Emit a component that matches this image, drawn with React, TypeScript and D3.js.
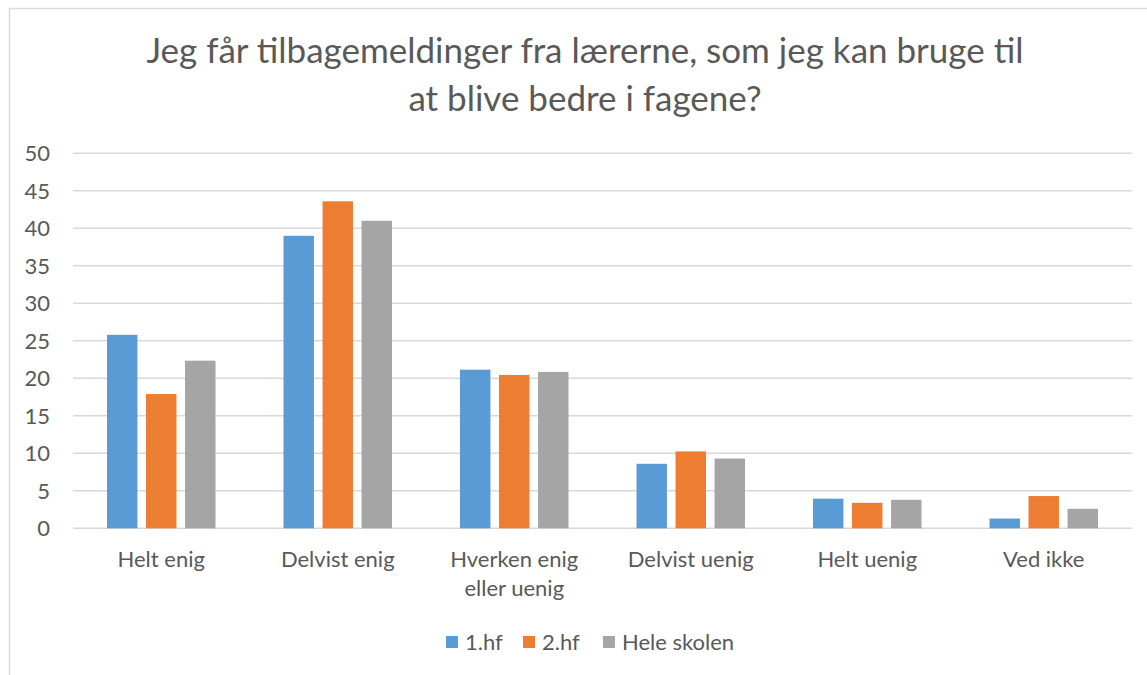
import React from 'react';
import * as d3 from 'd3';

const categories = ['Helt enig', 'Delvist enig', 'Hverken enig\neller uenig', 'Delvist uenig', 'Helt uenig', 'Ved ikke'];
const seriesNames = ['1.hf', '2.hf', 'Hele skolen'];
const hf1 = [25.8, 39.0, 21.15, 8.6, 3.95, 1.3];
const hf2 = [17.9, 43.6, 20.45, 10.25, 3.4, 4.3];
const heleSkolen = [22.35, 41.0, 20.85, 9.3, 3.8, 2.6];
const yTicks = [0, 5, 10, 15, 20, 25, 30, 35, 40, 45, 50];
const titleLines = ['Jeg får tilbagemeldinger fra lærerne, som jeg kan bruge til', 'at blive bedre i fagene?'];

const colors = ['#5B9BD5', '#ED7D31', '#A5A5A5'];
const FONT = 'Lato, "Liberation Sans", sans-serif';
const TEXT = '#595959';

export default function App() {
  const width = 1147;
  const height = 675;
  const plot = { left: 73, right: 1132, top: 153.3, bottom: 528.3 };

  const y = d3.scaleLinear().domain([0, 50]).range([plot.bottom, plot.top]);
  const x0 = d3.scaleBand<string>().domain(categories).range([plot.left, plot.right]).padding(0);
  const groupWidth = 108.5;
  const x1 = d3
    .scaleBand<string>()
    .domain(seriesNames)
    .range([0, groupWidth])
    .paddingInner(0.22);

  const values = [hf1, hf2, heleSkolen];

  return (
    <svg width={width} height={height} style={{ position: 'absolute', left: 0, top: 0, background: '#fff' }}>
      <rect x={9.5} y={8.5} width={1160} height={720} fill="#fff" stroke="#D9D9D9" strokeWidth={1.5} />

      {titleLines.map((t, i) => (
        <text key={i} x={585} y={63 + i * 48} textAnchor="middle" fontFamily={FONT} fontSize={35} fill={TEXT}>
          {t}
        </text>
      ))}

      {yTicks.map(t => (
        <g key={t}>
          <line x1={plot.left} x2={plot.right} y1={y(t)} y2={y(t)} stroke="#D9D9D9" strokeWidth={1.5} />
          <text x={50} y={y(t)} dy="0.35em" textAnchor="end" fontFamily={FONT} fontSize={22} fill={TEXT}>
            {t}
          </text>
        </g>
      ))}

      {categories.map((c, ci) => {
        const gx = x0(c)! + (x0.bandwidth() - groupWidth) / 2;
        return (
          <g key={c}>
            {seriesNames.map((s, si) => (
              <rect
                key={s}
                x={gx + x1(s)!}
                y={y(values[si][ci])}
                width={x1.bandwidth()}
                height={y(0) - y(values[si][ci])}
                fill={colors[si]}
              />
            ))}
            {c.split('\n').map((line, li) => (
              <text
                key={li}
                x={x0(c)! + x0.bandwidth() / 2}
                y={567 + li * 29}
                textAnchor="middle"
                fontFamily={FONT}
                fontSize={22}
                fill={TEXT}
              >
                {line}
              </text>
            ))}
          </g>
        );
      })}

      {(() => {
        const legendX = [446, 523, 603];
        return seriesNames.map((s, i) => (
          <g key={s}>
            <rect x={legendX[i]} y={636} width={12} height={12} fill={colors[i]} />
            <text x={legendX[i] + 19} y={642} dy="0.35em" fontFamily={FONT} fontSize={22} fill={TEXT}>
              {s}
            </text>
          </g>
        ));
      })()}
    </svg>
  );
}
